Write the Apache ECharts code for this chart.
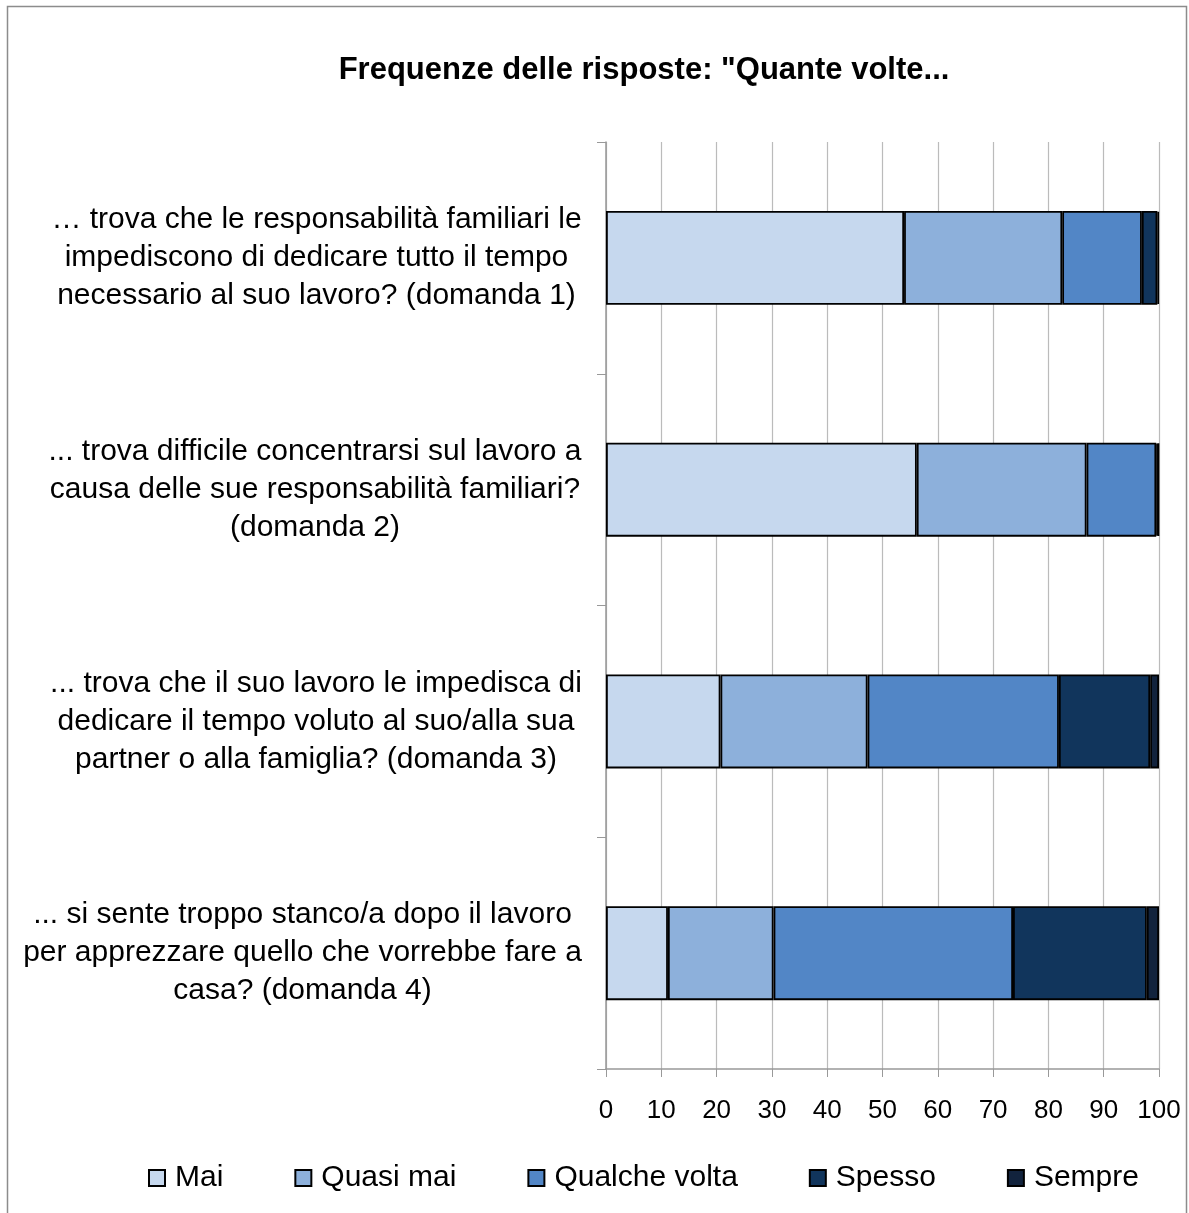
<!DOCTYPE html>
<html>
<head>
<meta charset="utf-8">
<style>
html,body{margin:0;padding:0;background:#fff;}
#chart{width:1189px;height:1213px;}
</style>
<script src="https://cdn.jsdelivr.net/npm/echarts@6/dist/echarts.min.js"></script>
</head>
<body>
<div id="chart"></div>
<script>
const categories = [
  "… trova che le responsabilità familiari le\nimpediscono di dedicare tutto il tempo\nnecessario al suo lavoro? (domanda 1)",
  "... trova difficile concentrarsi sul lavoro a\ncausa delle sue responsabilità familiari?\n(domanda 2)",
  "... trova che il suo lavoro le impedisca di\ndedicare il tempo voluto al suo/alla sua\npartner o alla famiglia? (domanda 3)",
  "... si sente troppo stanco/a dopo il lavoro\nper apprezzare quello che vorrebbe fare a\ncasa? (domanda 4)"
];
const seriesNames = ["Mai", "Quasi mai", "Qualche volta", "Spesso", "Sempre"];
const mai = [53.9, 56.2, 20.7, 11.2];
const quasiMai = [28.6, 30.7, 26.6, 19.1];
const qualcheVolta = [14.4, 12.6, 34.6, 43.3];
const spesso = [2.8, 0.3, 16.5, 24.2];
const sempre = [0.3, 0.2, 1.6, 2.2];
const xTicks = [0, 10, 20, 30, 40, 50, 60, 70, 80, 90, 100];
const titleText = 'Frequenze delle risposte: "Quante volte...';

const colors = ["#c6d8ee", "#8db0db", "#5286c6", "#11355c", "#12233d"];
const values = [mai, quasiMai, qualcheVolta, spesso, sempre];
const FONT = "'Liberation Sans', Arial, sans-serif";
const catFont = 30;

// measure widest line of each label for centered multi-line block
const ctx = document.createElement('canvas').getContext('2d');
ctx.font = catFont + "px " + FONT;
const rich = {};
categories.forEach((c, i) => {
  const w = Math.max(...c.split('\n').map(l => ctx.measureText(l).width));
  rich['w' + i] = { width: Math.ceil(w), align: 'center', fontSize: catFont, fontFamily: FONT, color: '#000', lineHeight: 38 };
});

const chart = echarts.init(document.getElementById('chart'), null, { renderer: 'canvas' });
chart.setOption({
  animation: false,
  backgroundColor: '#fff',
  title: {
    text: titleText,
    left: 639, top: 50, textAlign: 'center',
    textStyle: { fontFamily: FONT, fontSize: 31, fontWeight: 'bold', color: '#000' }
  },
  graphic: [{
    type: 'rect', shape: { x: 7.5, y: 6.5, width: 1179, height: 1220 },
    style: { fill: 'none', stroke: '#8c8c8c', lineWidth: 1.5 }, silent: true
  }],
  legend: {
    bottom: 20, left: 148, icon: 'rect', padding: 0,
    itemWidth: 16, itemHeight: 16, itemGap: 71,
    textStyle: { fontFamily: FONT, fontSize: 30, color: '#000', padding: [0, 0, 0, 5] },
    data: seriesNames
  },
  grid: { left: 606, right: 30, top: 142, bottom: 144 },
  xAxis: {
    type: 'value', min: 0, max: 100, interval: 10,
    axisLine: { show: true, lineStyle: { color: '#999', width: 1.5 } },
    axisTick: { show: true, length: 8, lineStyle: { color: '#999' } },
    splitLine: { show: true, lineStyle: { color: '#bbb', width: 1.2 } },
    axisLabel: { fontFamily: FONT, fontSize: 26, color: '#000', margin: 29,
      formatter: v => xTicks.includes(v) ? String(v) : '' }
  },
  yAxis: {
    type: 'category', inverse: true, data: categories,
    axisLine: { show: true, lineStyle: { color: '#999', width: 1.5 } },
    axisTick: { show: true, length: 9, interval: 0, lineStyle: { color: '#999' } },
    axisLabel: {
      margin: 24, align: 'right', interval: 0,
      formatter: (v, i) => v.split('\n').map(l => '{w' + i + '|' + l + '}').join('\n'),
      rich: rich
    }
  },
  series: seriesNames.map((n, i) => ({
    name: n, type: 'bar', stack: 'tot', data: values[i],
    barWidth: 94,
    itemStyle: { color: colors[i], borderColor: '#000', borderWidth: 1.8 }
  }))
});
</script>
</body>
</html>
